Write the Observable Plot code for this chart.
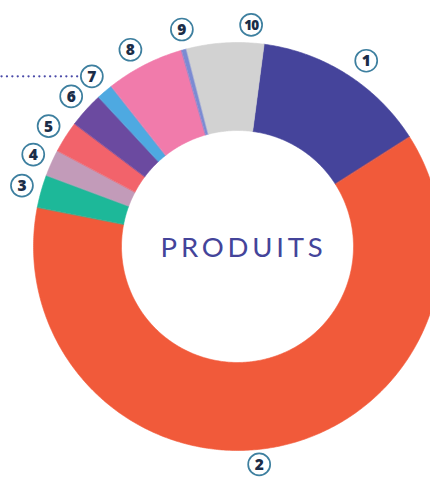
<!DOCTYPE html>
<html>
<head>
<meta charset="utf-8">
<script src="https://cdn.jsdelivr.net/npm/d3@7"></script>
<script src="https://cdn.jsdelivr.net/npm/@observablehq/plot@0.6"></script>
<style>
  html, body { margin: 0; padding: 0; background: #ffffff; overflow: hidden; }
  #chart svg { display: block; }
</style>
</head>
<body>
<div id="chart"></div>
<script>
// ---- data ----
const labels = ["1", "2", "3", "4", "5", "6", "7", "8", "9", "10"];
const shares = [13.9, 62.1, 2.6, 2.1, 2.5, 2.8, 1.3, 6.2, 0.4, 6.1];
const colors = ["#45449b", "#f15a3a", "#1db899", "#c29bb9", "#f2636b", "#6b4aa0", "#4ea9e1", "#f17bab", "#7b8bd3", "#d2d2d2"];
const centerTitle = "PRODUITS";
const leaderLabel = "7";

// ---- layout ----
const W = 430, H = 477;
const cx = 237, cy = 246;          // centre in pixels
const rOuter = 204, rInner = 116, rLabel = 224;
const startDeg = 7.5;
// small nudges so the callouts sit where the original puts them
const labelNudgeDeg = {"1": 2.2, "2": 5, "8": -1.5, "9": 0.8, "10": 7};
const labelNudgeR = {"1": 2, "2": -5, "10": -2};

const pie = d3.pie().sort(null).value(d => d.share)
  .startAngle(startDeg * Math.PI / 180)
  .endAngle(startDeg * Math.PI / 180 + 2 * Math.PI);

const rows = labels.map((k, i) => ({key: k, share: shares[i], color: colors[i]}));
const arcs = pie(rows);

function ring(a0, a1) {
  const n = Math.max(4, Math.ceil((a1 - a0) / 0.01));
  const pts = [];
  for (let j = 0; j <= n; j++) {
    const a = a0 + (a1 - a0) * j / n;
    pts.push({x: rOuter * Math.sin(a), y: rOuter * Math.cos(a)});
  }
  for (let j = n; j >= 0; j--) {
    const a = a0 + (a1 - a0) * j / n;
    pts.push({x: rInner * Math.sin(a), y: rInner * Math.cos(a)});
  }
  return pts;
}

const sliceMarks = arcs.map(a => Plot.line(ring(a.startAngle, a.endAngle), {
  x: "x", y: "y", curve: "linear-closed",
  fill: a.data.color, stroke: a.data.color, strokeWidth: 0.6, clip: true
}));

const labelPts = arcs.map(a => {
  const k = a.data.key;
  const m = (a.startAngle + a.endAngle) / 2 + (labelNudgeDeg[k] || 0) * Math.PI / 180;
  const r = rLabel + (labelNudgeR[k] || 0);
  return {key: k, x: r * Math.sin(m), y: r * Math.cos(m)};
});

const lead = labelPts.find(d => d.key === leaderLabel);
const xMin = -cx;

const chart = Plot.plot({
  width: W, height: H,
  margin: 0,
  x: {domain: [-cx, W - cx], range: [0, W], axis: null},
  y: {domain: [-(H - cy), cy], range: [H, 0], axis: null},
  marks: [
    ...sliceMarks,
    Plot.link([lead], {
      x1: xMin + 1, y1: "y", x2: d => d.x - 14, y2: "y",
      stroke: "#4a4aa8", strokeWidth: 2.2, strokeDasharray: "0.1 5.3", strokeLinecap: "round"
    }),
    Plot.dot(labelPts, {x: "x", y: "y", r: 11, fill: "#ffffff", stroke: "#3d7f9f", strokeWidth: 1.7}),
    Plot.text(labelPts, {x: "x", y: "y", text: "key", fill: "#1b2d48",
      fontSize: d => d.key.length > 1 ? 13.5 : 15.5, fontWeight: 800,
      fontFamily: "Open Sans, sans-serif", dy: 0.5}),
    Plot.text([centerTitle], {x: 0, y: 0, text: d => d, dx: 6, dy: 2, fill: "#44449a",
      fontSize: 27.5, fontWeight: 400, fontFamily: "Lato, sans-serif"})
  ]
});

// typographic tweaks Plot's text mark has no option for
d3.select(chart).selectAll("text")
  .filter(function() { return this.textContent === centerTitle; })
  .style("letter-spacing", "3.8px");
d3.select(chart).selectAll("text")
  .filter(function() { return this.textContent.length > 1 && labels.includes(this.textContent); })
  .style("letter-spacing", "-1px");

document.getElementById("chart").appendChild(chart);
</script>
</body>
</html>
